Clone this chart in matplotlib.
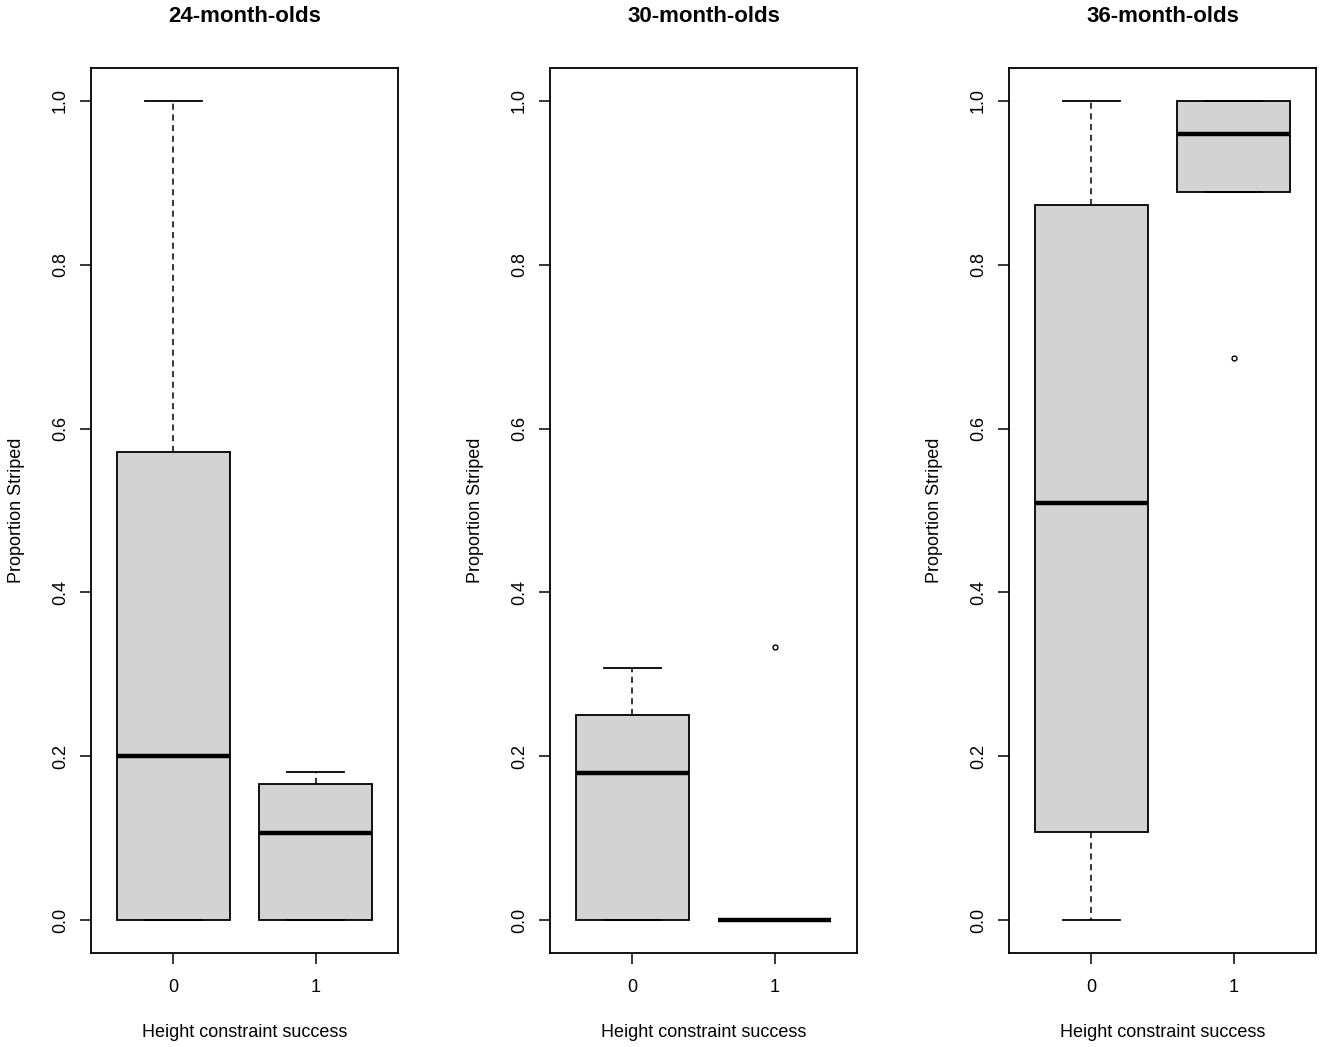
import matplotlib
matplotlib.use("Agg")
import matplotlib.pyplot as plt

plt.rcParams['font.family'] = ['Liberation Sans', 'DejaVu Sans']

titles = ["24-month-olds", "30-month-olds", "36-month-olds"]
groups = ["0", "1"]
# per panel, per group: (whislo, q1, med, q3, whishi, outliers)
p24 = [(0.0, 0.0, 0.200, 0.571, 1.000, []),
       (0.0, 0.0, 0.106, 0.166, 0.181, [])]
p30 = [(0.0, 0.0, 0.180, 0.250, 0.308, []),
       (0.0, 0.0, 0.000, 0.000, 0.000, [0.334])]
p36 = [(0.0, 0.108, 0.509, 0.873, 1.000, []),
       (0.889, 0.889, 0.959, 1.000, 1.000, [0.686])]
panels = [p24, p30, p36]
yticks = [0.0, 0.2, 0.4, 0.6, 0.8, 1.0]
ylabel = "Proportion Striped"
xlabel = "Height constraint success"

fig = plt.figure(figsize=(13.25, 10.47), dpi=100)
lefts = [91, 550, 1009]
W, H = 1325, 1047
for i, (stats_raw, title) in enumerate(zip(panels, titles)):
    ax = fig.add_axes([lefts[i] / W, 1 - 953 / H, 307 / W, 885 / H])
    stats = []
    for (lo, q1, med, q3, hi, fl), lab in zip(stats_raw, groups):
        stats.append(dict(whislo=lo, q1=q1, med=med, q3=q3, whishi=hi, fliers=fl, label=lab))
    ax.bxp(stats, positions=[1, 2], widths=0.8, patch_artist=True,
           boxprops=dict(facecolor='#d3d3d3', edgecolor='black', linewidth=1.3),
           medianprops=dict(color='black', linewidth=3.2, solid_capstyle='butt'),
           whiskerprops=dict(color='black', linewidth=1.1, linestyle=(0, (4, 3))),
           capprops=dict(color='black', linewidth=1.3),
           capwidths=0.4,
           flierprops=dict(marker='o', markersize=3.5, markerfacecolor='white',
                           markeredgecolor='black', markeredgewidth=1.0))
    ax.set_xlim(0.42, 2.58)
    ax.set_ylim(-0.04, 1.04)
    ax.set_yticks(yticks)
    ax.set_yticklabels([f"{v:.1f}" for v in yticks], rotation=90, va='center', fontsize=13)
    ax.set_xticks([1, 2])
    ax.set_xticklabels(groups, fontsize=13)
    ax.tick_params(direction='out', length=8, width=1.1, pad=8)
    ax.tick_params(axis='x', pad=11)
    for s in ax.spines.values():
        s.set_linewidth(1.3)
    ax.set_title(title, fontsize=16, fontweight='bold', pad=33)
    ax.set_ylabel(ylabel, fontsize=13, labelpad=19)
    ax.set_xlabel(xlabel, fontsize=13, labelpad=20)

fig.savefig("out.png", dpi=100)
